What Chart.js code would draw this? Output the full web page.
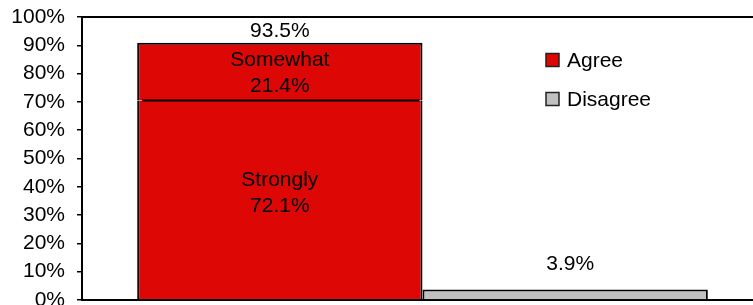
<!DOCTYPE html>
<html>
<head>
<meta charset="utf-8">
<script src="https://cdn.jsdelivr.net/npm/chart.js@4/dist/chart.umd.min.js"></script>
<style>
  html, body { margin: 0; padding: 0; background: #fff; overflow: hidden; }
  #wrap { width: 765px; height: 305px; }
</style>
</head>
<body>
<div id="wrap"><canvas id="chart"></canvas></div>
<script>
// values (bar heights) and the printed labels
const categories = [''];
const stronglyValues = [70.5];
const somewhatValues = [20.4];
const disagreeValues = [3.7];
const stronglyLabel = ['Strongly', '72.1%'];
const somewhatLabel = ['Somewhat', '21.4%'];
const agreeTotalLabel = '93.5%';
const disagreeLabel = '3.9%';
const legendNames = ['Agree', 'Disagree'];
const yTicks = [0, 10, 20, 30, 40, 50, 60, 70, 80, 90, 100];

const RED = '#dd0806';
const GREY = '#c0c0c0';
const FONT = '"Liberation Sans", Arial, sans-serif';

const labelPlugin = {
    id: 'labels',
    afterDatasetsDraw(chart) {
        const ctx = chart.ctx;
        const area = chart.chartArea;
        ctx.save();
        // top frame line
        ctx.strokeStyle = '#000';
        ctx.lineWidth = 2;
        ctx.beginPath();
        ctx.moveTo(area.left, area.top);
        ctx.lineTo(area.right + 5, area.top);
        ctx.stroke();

        const strong = chart.getDatasetMeta(0).data[0];
        const some = chart.getDatasetMeta(1).data[0];
        const dis = chart.getDatasetMeta(2).data[0];

        // divider between strongly / somewhat, slightly inset like the original
        ctx.beginPath();
        ctx.moveTo(strong.x - strong.width / 2 + 5, strong.y);
        ctx.lineTo(strong.x + strong.width / 2 - 3, strong.y);
        ctx.stroke();

        ctx.font = '21px ' + FONT;
        ctx.fillStyle = '#000';
        ctx.textAlign = 'center';
        ctx.textBaseline = 'middle';

        let mid = (strong.y + strong.base) / 2 - 7;
        ctx.fillText(stronglyLabel[0], strong.x, mid - 13);
        ctx.fillText(stronglyLabel[1], strong.x, mid + 13);

        mid = (some.y + some.base) / 2 + 2;
        ctx.fillText(somewhatLabel[0], some.x, mid - 13);
        ctx.fillText(somewhatLabel[1], some.x, mid + 13);

        ctx.fillText(agreeTotalLabel, some.x, some.y - 12);
        ctx.fillText(disagreeLabel, dis.x + 5, dis.y - 25);

        // legend
        const colors = [RED, GREY];
        ctx.textAlign = 'left';
        legendNames.forEach((name, i) => {
            const y = 60 + i * 39;
            ctx.fillStyle = colors[i];
            ctx.fillRect(546, y - 6.5, 13, 13);
            ctx.strokeStyle = '#222';
            ctx.lineWidth = 1.5;
            ctx.strokeRect(546, y - 6.5, 13, 13);
            ctx.fillStyle = '#000';
            ctx.fillText(name, 567, y + 1);
        });
        ctx.restore();
    }
};

new Chart(document.getElementById('chart'), {
    type: 'bar',
    data: {
        labels: categories,
        datasets: [
            {
                label: 'Strongly',
                data: stronglyValues,
                stack: 'agree',
                backgroundColor: RED,
                borderColor: '#000',
                borderWidth: { top: 0, left: 2, right: 2, bottom: 0 },
                borderSkipped: 'start'
            },
            {
                label: 'Somewhat',
                data: somewhatValues,
                stack: 'agree',
                backgroundColor: RED,
                borderColor: '#000',
                borderWidth: { top: 2, left: 2, right: 2, bottom: 0 },
                borderSkipped: 'start'
            },
            {
                label: 'Disagree',
                data: disagreeValues,
                stack: 'disagree',
                backgroundColor: GREY,
                borderColor: '#000',
                borderWidth: 2,
                borderSkipped: 'start'
            }
        ]
    },
    options: {
        responsive: true,
        maintainAspectRatio: false,
        animation: false,
        categoryPercentage: 0.838,
        barPercentage: 1,
        layout: { padding: { top: 17, bottom: 5, left: 0, right: 2 } },
        plugins: {
            legend: { display: false },
            tooltip: { enabled: false }
        },
        scales: {
            x: {
                stacked: true,
                ticks: { display: false },
                grid: { display: false, drawTicks: false },
                border: { display: true, color: '#000', width: 2 },
                afterFit(scale) { scale.height = 0; }
            },
            y: {
                stacked: true,
                min: 0,
                max: 100,
                afterBuildTicks(scale) {
                    scale.ticks = yTicks.map(v => ({ value: v }));
                },
                ticks: {
                    autoSkip: false,
                    callback: v => v + '%',
                    color: '#000',
                    padding: 12,
                    font: { family: FONT, size: 21 }
                },
                grid: {
                    drawOnChartArea: false,
                    tickLength: 5,
                    color: '#000',
                    lineWidth: 1.5
                },
                border: { display: true, color: '#000', width: 2 },
                afterFit(scale) {
                    scale.width = 82;
                    scale.paddingTop = 0;
                    scale.paddingBottom = 0;
                }
            }
        }
    },
    plugins: [labelPlugin]
});
</script>
</body>
</html>
